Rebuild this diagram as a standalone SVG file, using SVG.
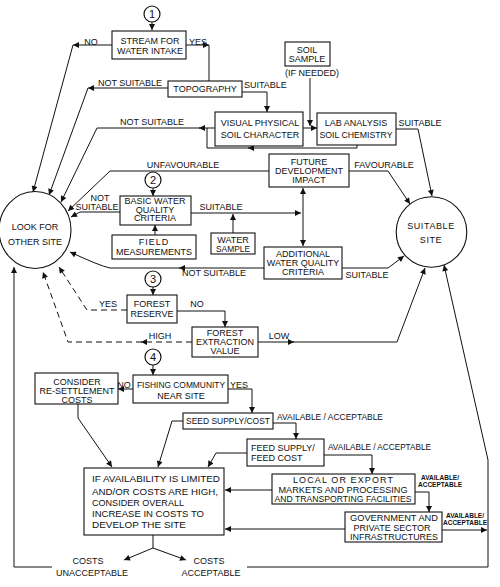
<svg xmlns="http://www.w3.org/2000/svg" width="500" height="587" viewBox="0 0 500 587">
<defs>
<style>
.t{font-family:"Liberation Sans",Arial,sans-serif;font-size:9px;fill:#111;text-anchor:middle}
.s{font-family:"Liberation Sans",Arial,sans-serif;font-size:6.5px;fill:#111;text-anchor:middle;font-weight:bold}
.st{text-anchor:start}
.n{font-size:11px}
.box{fill:#fff;stroke:#111;stroke-width:1.1}
.num{fill:#fff;stroke:#111;stroke-width:1.2}
.c{fill:none;stroke:#111;stroke-width:1;marker-end:url(#ah)}
.p{fill:none;stroke:#111;stroke-width:1}
.d{stroke-dasharray:6,4}
.both{marker-start:url(#ahs)}
</style>
<marker id="ah" viewBox="0 0 10 10" refX="10" refY="5" markerWidth="7" markerHeight="6" markerUnits="userSpaceOnUse" orient="auto"><path d="M0,0 L10,5 L0,10 z" fill="#111"/></marker>
<marker id="ahs" viewBox="0 0 10 10" refX="10" refY="5" markerWidth="7" markerHeight="6" markerUnits="userSpaceOnUse" orient="auto-start-reverse"><path d="M0,0 L10,5 L0,10 z" fill="#111"/></marker>
</defs>
<rect width="500" height="587" fill="#fff"/>

<g id="connectors">
<path class="c" d="M152,22 V30"/>
<path class="c" d="M112,45 H73"/>
<path class="c" d="M73,45 L33,192"/>
<path class="c" d="M186,45 H209"/>
<path class="p" d="M209,45 V81"/>
<path class="c" d="M168,88 H88"/>
<path class="c" d="M88,88 L49,195"/>
<path class="c" d="M242,92 H267 V112"/>
<path class="c" d="M310,78 V126"/>
<path class="c" d="M303,128 H317"/>
<path class="c" d="M215,128 H199"/>
<path class="c" d="M200,128 H97 L61,202"/>
<path class="c" d="M357,145 V148 H248"/>
<path class="p" d="M249,148 H207 V128"/>
<path class="c" d="M396,129 H418 L432,196"/>
<path class="c" d="M269,171 H110 L68,211"/>
<path class="c" d="M348,171 H388 L410,204"/>
<path class="c" d="M153,188 V196"/>
<path class="c" d="M120,212 H80 L71,217"/>
<path class="c" d="M155,235 V225"/>
<path class="c" d="M191,213 H301"/>
<path class="c" d="M233,233 V214"/>
<path class="c both" d="M303,188 V246"/>
<path class="c" d="M342,268 H388 L404,256"/>
<path class="c" d="M264,268 H179"/>
<path class="c" d="M180,268 H110 Q100,266 70,252"/>
<path class="c" d="M153,287 V295"/>
<path class="c d" d="M127,310 H87 L59,267"/>
<path class="c" d="M177,311 H225 V327"/>
<path class="c d" d="M192,342 H141"/>
<path class="c d" d="M142,342 H68 L43,272"/>
<path class="c" d="M258,342 H294"/>
<path class="c" d="M293,342 H397 L425,268"/>
<path class="c" d="M153,365 V375"/>
<path class="c" d="M133,389 H118"/>
<path class="c" d="M78,404 V418 L112,467"/>
<path class="c" d="M228,389 H252 V413"/>
<path class="c" d="M183,421 H172 L158,467"/>
<path class="c" d="M273,423 H296 V439"/>
<path class="c" d="M247,453 H216 L208,467"/>
<path class="c" d="M324,455 H372 V474"/>
<path class="c" d="M272,490 H225"/>
<path class="c" d="M415,492 H429 V512"/>
<path class="c" d="M345,529 H225"/>
<path class="c" d="M442,530 H487"/>
<path class="p" d="M153,535 V548"/>
<path class="c" d="M153,548 L124,560"/>
<path class="c" d="M153,548 L186,560"/>
<path class="c" d="M247,567 H488 V460 L444,265"/>
<path class="c" d="M52,567 H14 V267"/>
</g>

<g id="label-text">
<text class="t" x="91" y="45">NO</text>
<text class="t" x="198" y="45">YES</text>
<text class="t" x="130" y="86">NOT SUITABLE</text>
<text class="t st" x="244" y="88">SUITABLE</text>
<text class="t" x="152" y="125">NOT SUITABLE</text>
<text class="t" x="420" y="126">SUITABLE</text>
<text class="t" x="183" y="168">UNFAVOURABLE</text>
<text class="t" x="384" y="168">FAVOURABLE</text>
<text class="t" x="100" y="201" font-size="8.5">NOT</text>
<text class="t" x="97" y="210" font-size="8.5">SUITABLE</text>
<text class="t" x="221" y="210">SUITABLE</text>
<text class="t" x="367" y="278">SUITABLE</text>
<text class="t" x="214" y="276">NOT SUITABLE</text>
<text class="t" x="108" y="307">YES</text>
<text class="t" x="197" y="307">NO</text>
<text class="t" x="160" y="339">HIGH</text>
<text class="t" x="279" y="339">LOW</text>
<text class="t" x="124" y="388" font-size="8">NO</text>
<text class="t" x="239" y="388">YES</text>
<text class="t st" x="277" y="420" textLength="106" lengthAdjust="spacingAndGlyphs">AVAILABLE / ACCEPTABLE</text>
<text class="t st" x="328" y="450" textLength="103" lengthAdjust="spacingAndGlyphs">AVAILABLE / ACCEPTABLE</text>
<text class="s" x="440" y="480">AVAILABLE/</text>
<text class="s" x="440" y="487">ACCEPTABLE</text>
<text class="s" x="465" y="518">AVAILABLE/</text>
<text class="s" x="465" y="525">ACCEPTABLE</text>
<text class="t" x="88" y="564">COSTS</text>
<text class="t" x="92" y="576">UNACCEPTABLE</text>
<text class="t" x="209" y="564">COSTS</text>
<text class="t" x="211" y="576">ACCEPTABLE</text>
</g>

<g id="n1"><circle class="num" cx="152" cy="14" r="8"/><text class="t n" x="152" y="18">1</text></g>
<g id="n2"><circle class="num" cx="153" cy="180" r="8"/><text class="t n" x="153" y="184">2</text></g>
<g id="n3"><circle class="num" cx="153" cy="279" r="8"/><text class="t n" x="153" y="283">3</text></g>
<g id="n4"><circle class="num" cx="153" cy="357" r="8"/><text class="t n" x="153" y="361">4</text></g>

<g id="stream"><rect class="box" x="112" y="31" width="74" height="28"/>
<text class="t" x="150" y="44">STREAM FOR</text><text class="t" x="150" y="54">WATER INTAKE</text></g>

<g id="topography"><rect class="box" x="168" y="81" width="74" height="16"/>
<text class="t" x="205" y="92">TOPOGRAPHY</text></g>

<g id="soil-sample"><rect class="box" x="285" y="42" width="45" height="24"/>
<text class="t" x="307" y="53">SOIL</text><text class="t" x="307" y="62">SAMPLE</text>
<text class="t" x="312" y="76" font-size="8">(IF NEEDED)</text></g>

<g id="visual"><rect class="box" x="215" y="112" width="88" height="34"/>
<text class="t" x="260" y="126">VISUAL PHYSICAL</text><text class="t" x="260" y="138">SOIL CHARACTER</text></g>

<g id="lab"><rect class="box" x="317" y="113" width="79" height="32"/>
<text class="t" x="356" y="126">LAB ANALYSIS</text><text class="t" x="356" y="138" textLength="73" lengthAdjust="spacingAndGlyphs">SOIL CHEMISTRY</text></g>

<g id="future"><rect class="box" x="269" y="154" width="80" height="33"/>
<text class="t" x="309" y="165">FUTURE</text><text class="t" x="309" y="174">DEVELOPMENT</text><text class="t" x="309" y="183">IMPACT</text></g>

<g id="look-other"><ellipse fill="#fff" stroke="#111" stroke-width="1.1" cx="35" cy="230" rx="36" ry="38.5"/>
<text class="t" x="35" y="230" font-size="8.5">LOOK FOR</text><text class="t" x="35" y="245" font-size="8.5">OTHER SITE</text></g>

<g id="suitable-site"><circle fill="#fff" stroke="#111" stroke-width="1.1" cx="431.5" cy="232" r="35.3"/>
<text class="t" x="431" y="229" font-size="8.5" letter-spacing="0.6">SUITABLE</text><text class="t" x="431" y="243" font-size="8.5" letter-spacing="0.6">SITE</text></g>

<g id="basic"><rect class="box" x="120" y="196" width="71" height="29"/>
<text class="t" x="155" y="204" font-size="7.2">BASIC WATER</text><text class="t" x="155" y="212.7" font-size="7.2">QUALITY</text><text class="t" x="155" y="221.4" font-size="7.2">CRITERIA</text></g>

<g id="field"><rect class="box" x="112" y="235" width="84" height="24"/>
<text class="t" x="154" y="245" letter-spacing="1">FIELD</text><text class="t" x="154" y="255">MEASUREMENTS</text></g>

<g id="water-sample"><rect class="box" x="211" y="233" width="44" height="21"/>
<text class="t" x="233" y="243">WATER</text><text class="t" x="233" y="251.5" textLength="34" lengthAdjust="spacingAndGlyphs">SAMPLE</text></g>

<g id="additional"><rect class="box" x="264" y="247" width="78" height="32"/>
<text class="t" x="303" y="257">ADDITIONAL</text><text class="t" x="303" y="266">WATER QUALITY</text><text class="t" x="303" y="275">CRITERIA</text></g>

<g id="forest-reserve"><rect class="box" x="127" y="295" width="50" height="28"/>
<text class="t" x="152" y="307">FOREST</text><text class="t" x="152" y="317">RESERVE</text></g>

<g id="forest-extraction"><rect class="box" x="192" y="327" width="66" height="30"/>
<text class="t" x="225" y="336">FOREST</text><text class="t" x="225" y="345">EXTRACTION</text><text class="t" x="225" y="354">VALUE</text></g>

<g id="fishing"><rect class="box" x="133" y="375" width="95" height="28"/>
<text class="t" x="181" y="388" textLength="88" lengthAdjust="spacingAndGlyphs">FISHING COMMUNITY</text><text class="t" x="181" y="399">NEAR SITE</text></g>

<g id="resettlement"><rect class="box" x="35" y="373" width="83" height="31"/>
<text class="t" x="77" y="385">CONSIDER</text><text class="t" x="77" y="394">RE-SETTLEMENT</text><text class="t" x="77" y="403">COSTS</text></g>

<g id="seed"><rect class="box" x="183" y="413" width="90" height="16"/>
<text class="t" x="228" y="424" textLength="84" lengthAdjust="spacingAndGlyphs">SEED SUPPLY/COST</text></g>

<g id="feed"><rect class="box" x="247" y="439" width="77" height="27"/>
<text class="t st" x="251" y="451">FEED SUPPLY/</text><text class="t st" x="251" y="461">FEED COST</text></g>

<g id="markets"><rect class="box" x="272" y="474" width="143" height="30"/>
<text class="t" x="343" y="483" textLength="100" lengthAdjust="spacing">LOCAL OR EXPORT</text>
<text class="t" x="343" y="492.5" textLength="129" lengthAdjust="spacingAndGlyphs">MARKETS AND PROCESSING</text>
<text class="t" x="343" y="502" textLength="137" lengthAdjust="spacingAndGlyphs">AND TRANSPORTING FACILITIES</text></g>

<g id="government"><rect class="box" x="345" y="512" width="97" height="30"/>
<text class="t" x="394" y="521" textLength="88" lengthAdjust="spacingAndGlyphs">GOVERNMENT AND</text>
<text class="t" x="392" y="530.5" textLength="77" lengthAdjust="spacingAndGlyphs">PRIVATE SECTOR</text>
<text class="t" x="394" y="540" textLength="88" lengthAdjust="spacingAndGlyphs">INFRASTRUCTURES</text></g>

<g id="overall"><rect class="box" x="84" y="468" width="140" height="67"/>
<text class="t st" x="92" y="482" textLength="128" lengthAdjust="spacingAndGlyphs">IF AVAILABILITY IS LIMITED</text>
<text class="t st" x="92" y="495" textLength="126" lengthAdjust="spacingAndGlyphs">AND/OR COSTS ARE HIGH,</text>
<text class="t st" x="92" y="506" textLength="92" lengthAdjust="spacingAndGlyphs">CONSIDER OVERALL</text>
<text class="t st" x="92" y="517" textLength="112" lengthAdjust="spacingAndGlyphs">INCREASE IN COSTS TO</text>
<text class="t st" x="92" y="528" textLength="94" lengthAdjust="spacingAndGlyphs">DEVELOP THE SITE</text></g>
</svg>
